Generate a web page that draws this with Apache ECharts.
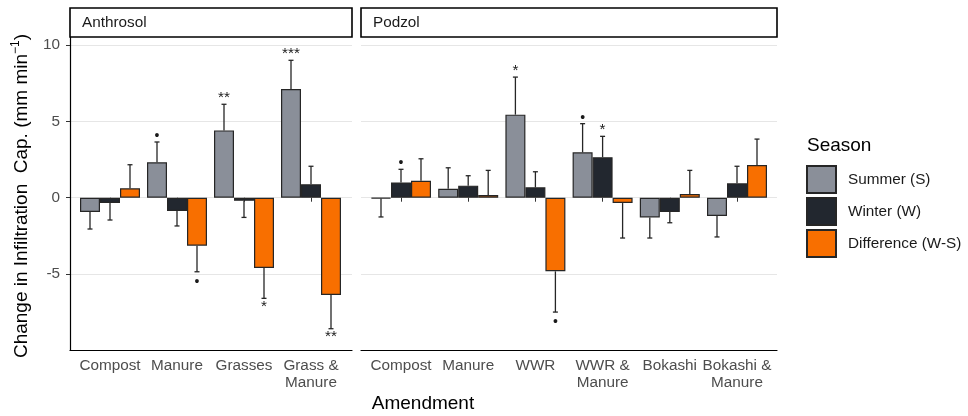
<!DOCTYPE html>
<html>
<head>
<meta charset="utf-8">
<script src="https://cdn.jsdelivr.net/npm/echarts@6/dist/echarts.min.js"></script>
<style>
  html, body { margin: 0; padding: 0; background: #ffffff; }
  #chart { width: 968px; height: 416px; }
</style>
</head>
<body>
<div id="chart"></div>
<script>
// ---- data -------------------------------------------------------------
const seasons = ['Summer (S)', 'Winter (W)', 'Difference (W-S)'];
const anthrosolCats = ['Compost', 'Manure', 'Grasses', 'Grass &\nManure'];
const podzolCats = ['Compost', 'Manure', 'WWR', 'WWR &\nManure', 'Bokashi', 'Bokashi &\nManure'];
const yTickValues = [-5, 0, 5, 10];

// Anthrosol: mean change, end of the (one-sided) error bar, significance mark
const anthSummer    = [-0.94, 2.32, 4.41, 7.12];
const anthSummerErr = [-2.05, 3.65, 6.12, 9.00];
const anthSummerSig = ['', '•', '**', '***'];
const anthWinter    = [-0.35, -0.87, -0.20, 0.88];
const anthWinterErr = [-1.46, -1.85, -1.29, 2.06];
const anthWinterSig = ['', '', '', ''];
const anthDiff      = [0.62, -3.14, -4.60, -6.37];
const anthDiffErr   = [2.16, -4.85, -6.59, -8.58];
const anthDiffSig   = ['', '•', '*', '**'];

// Podzol
const podSummer    = [-0.05, 0.59, 5.44, 2.97, -1.29, -1.20];
const podSummerErr = [-1.26, 1.96, 7.90, 4.85, -2.64, -2.57];
const podSummerSig = ['', '', '*', '•', '', ''];
const podWinter    = [1.00, 0.79, 0.68, 2.65, -0.94, 0.94];
const podWinterErr = [1.86, 1.44, 1.70, 4.02, -1.64, 2.06];
const podWinterSig = ['•', '', '', '*', '', ''];
const podDiff      = [1.11, 0.18, -4.82, -0.35, 0.24, 2.14];
const podDiffErr   = [2.55, 1.79, -7.49, -2.64, 1.79, 3.84];
const podDiffSig   = ['', '', '•', '', '', ''];

// ---- styling ----------------------------------------------------------
const seasonColors = ['#8a8f99', '#22272f', '#f86f00'];
const BAR_W = 20;
const Y_MIN = -10, Y_MAX = 10.5;
const FONT = '"Liberation Sans", Arial, sans-serif';
const TICK_FS = 15.3;
const TITLE_FS = 19;

const panels = [
  { frame: { left: 70, top: 37.4, width: 282, height: 313 },
    bars:  { left: 76.5, top: 37.4, width: 268, height: 313 },
    cats: anthrosolCats, showY: true,
    values: [anthSummer, anthWinter, anthDiff],
    errs:   [anthSummerErr, anthWinterErr, anthDiffErr],
    sigs:   [anthSummerSig, anthWinterSig, anthDiffSig] },
  { frame: { left: 361, top: 37.4, width: 416, height: 313 },
    bars:  { left: 367.4, top: 37.4, width: 403.2, height: 313 },
    cats: podzolCats, showY: false,
    values: [podSummer, podWinter, podDiff],
    errs:   [podSummerErr, podWinterErr, podDiffErr],
    sigs:   [podSummerSig, podWinterSig, podDiffSig] }
];

const grid = [], xAxis = [], yAxis = [], series = [];

panels.forEach((p) => {
  const gFrame = grid.length;
  grid.push(Object.assign({ outerBoundsMode: 'none', containLabel: false }, p.frame));
  const gBars = grid.length;
  grid.push(Object.assign({ outerBoundsMode: 'none', containLabel: false }, p.bars));

  // frame: bottom axis line + horizontal grid lines (+ y labels on the left panel)
  xAxis.push({
    gridIndex: gFrame, type: 'value', min: 0, max: 1,
    axisLine: { show: true, onZero: false, lineStyle: { color: '#000', width: 1.2 } },
    axisTick: { show: false }, axisLabel: { show: false }, splitLine: { show: false }
  });
  yAxis.push({
    gridIndex: gFrame, type: 'value', min: Y_MIN, max: Y_MAX, interval: 2.5,
    axisLine: { show: p.showY, lineStyle: { color: '#000', width: 1.2 } },
    axisTick: { show: p.showY, length: 4, customValues: yTickValues, lineStyle: { color: '#333' } },
    axisLabel: {
      show: p.showY, customValues: yTickValues, margin: 10,
      color: '#4d4d4d', fontSize: TICK_FS, fontFamily: FONT,
      formatter: v => String(v)
    },
    splitLine: { show: true, lineStyle: { color: '#e6e6e6', width: 1.2 } }
  });

  // bars: category axis with ticks and labels
  xAxis.push({
    gridIndex: gBars, type: 'category', data: p.cats, boundaryGap: true,
    axisLine: { show: false },
    axisTick: { show: true, alignWithLabel: true, interval: 0, length: 4, lineStyle: { color: '#333' } },
    axisLabel: {
      interval: 0, hideOverlap: false, margin: 7,
      color: '#4d4d4d', fontSize: TICK_FS, fontFamily: FONT, lineHeight: 17
    },
    splitLine: { show: false }
  });
  yAxis.push({
    gridIndex: gBars, type: 'value', min: Y_MIN, max: Y_MAX,
    show: false, splitLine: { show: false }
  });

  const xi = xAxis.length - 1, yi = yAxis.length - 1;

  seasons.forEach((s, si) => {
    series.push({
      type: 'bar', name: s, xAxisIndex: xi, yAxisIndex: yi,
      data: p.values[si], barWidth: BAR_W, barGap: '0%',
      itemStyle: { color: seasonColors[si], borderColor: '#262626', borderWidth: 1.2 },
      emphasis: { disabled: true }, z: 2, silent: true
    });
  });

  // one-sided error bars with significance marks
  seasons.forEach((s, si) => {
    const vals = p.values[si], errs = p.errs[si], sigs = p.sigs[si];
    series.push({
      type: 'custom', name: s + ' SE', xAxisIndex: xi, yAxisIndex: yi, z: 3, silent: true,
      data: vals.map((v, i) => [i, v, errs[i]]),
      renderItem: (params, api) => {
        const i = api.value(0);
        const base = api.coord([i, api.value(1)]);
        const end = api.coord([i, api.value(2)]);
        const x = base[0] + (si - 1) * BAR_W;
        const lineStyle = { stroke: '#262626', lineWidth: 1.3 };
        const children = [
          { type: 'line', shape: { x1: x, y1: base[1], x2: x, y2: end[1] }, style: lineStyle },
          { type: 'line', shape: { x1: x - 2.5, y1: end[1], x2: x + 2.5, y2: end[1] }, style: lineStyle }
        ];
        const sig = sigs[params.dataIndex];
        if (sig) {
          const up = end[1] < base[1];
          const isDot = sig === '•';
          const y = isDot ? (up ? end[1] - 6 : end[1] + 10)
                          : (up ? end[1] - 6.5 : end[1] + 8);
          children.push({
            type: 'text', x: x, y: y,
            style: {
              text: sig, fill: '#1a1a1a',
              font: (isDot ? 14 : TICK_FS) + 'px ' + FONT,
              textAlign: 'center', textVerticalAlign: 'middle'
            }
          });
        }
        return { type: 'group', children };
      }
    });
  });
});

// facet strips, axis titles and legend title
const graphic = [
  { type: 'rect', shape: { x: 70, y: 8, width: 282, height: 29 },
    style: { fill: '#fff', stroke: '#000', lineWidth: 1.6 }, z: 10 },
  { type: 'text', x: 82, y: 23, z: 11,
    style: { text: 'Anthrosol', fill: '#1a1a1a', font: TICK_FS + 'px ' + FONT, textVerticalAlign: 'middle' } },
  { type: 'rect', shape: { x: 361, y: 8, width: 416, height: 29 },
    style: { fill: '#fff', stroke: '#000', lineWidth: 1.6 }, z: 10 },
  { type: 'text', x: 373, y: 23, z: 11,
    style: { text: 'Podzol', fill: '#1a1a1a', font: TICK_FS + 'px ' + FONT, textVerticalAlign: 'middle' } },
  { type: 'text', x: 423, y: 404, z: 11,
    style: { text: 'Amendment', fill: '#000', font: TITLE_FS + 'px ' + FONT,
             textAlign: 'center', textVerticalAlign: 'middle' } },
  { type: 'text', x: 22, y: 196, rotation: Math.PI / 2, z: 11,
    style: {
      text: 'Change in Infiltration  Cap. (mm min{sup|−1})',
      fill: '#000', fontSize: TITLE_FS, fontFamily: FONT, lineHeight: 24,
      textAlign: 'center', textVerticalAlign: 'middle',
      rich: { sup: { fontSize: 12, fontFamily: FONT, fill: '#000', lineHeight: 14, verticalAlign: 'top' } }
    } },
  { type: 'text', x: 807, y: 146, z: 11,
    style: { text: 'Season', fill: '#000', font: TITLE_FS + 'px ' + FONT, textVerticalAlign: 'middle' } }
];

const chart = echarts.init(document.getElementById('chart'), null, { renderer: 'canvas' });
chart.setOption({
  animation: false,
  backgroundColor: '#ffffff',
  grid, xAxis, yAxis, series, graphic,
  tooltip: { show: false },
  legend: {
    data: seasons, orient: 'vertical', left: 806, top: 165,
    itemWidth: 29, itemHeight: 27, itemGap: 3, padding: 0,
    selectedMode: false, icon: 'rect',
    textStyle: { color: '#1a1a1a', fontSize: TICK_FS, fontFamily: FONT, padding: [0, 0, 0, 7] }
  }
});
</script>
</body>
</html>
